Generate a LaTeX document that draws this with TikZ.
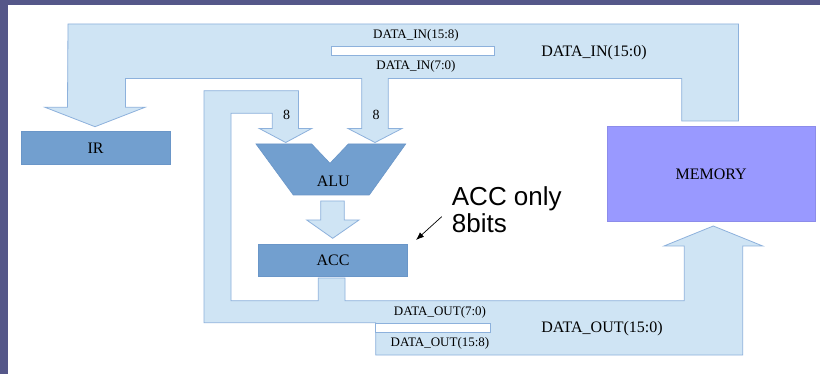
\documentclass[tikz,border=0pt]{standalone}
\usepackage{fontspec}
\setmainfont{Liberation Serif}
\newfontfamily\notefont{Liberation Sans}
\usetikzlibrary{arrows.meta}
\definecolor{slidebg}{HTML}{555789}
\definecolor{busfill}{HTML}{CFE4F4}
\definecolor{busline}{HTML}{8DB1DC}
\definecolor{compfill}{HTML}{729FCF}
\definecolor{compline}{HTML}{6A96C8}
\definecolor{memfill}{HTML}{9999FF}
\definecolor{memline}{HTML}{8C8CEA}
\tikzset{
  bus/.style={fill=busfill, draw=busline, line width=0.8pt, line join=miter},
  sepbox/.style={fill=white, draw=busline, line width=0.8pt},
  comp/.style={fill=compfill, draw=compline, line width=0.6pt, inner sep=0pt},
  membox/.style={fill=memfill, draw=memline, line width=0.6pt, inner sep=0pt},
  lbl/.style={inner sep=0pt, font=\fontsize{13}{15}\selectfont},
  biglbl/.style={inner sep=0pt, font=\fontsize{16}{18}\selectfont},
  complbl/.style={inner sep=0pt, font=\fontsize{16}{18}\selectfont},
  note/.style={inner sep=0pt, font=\notefont\fontsize{26}{28}\selectfont},
}
\begin{document}
\begin{tikzpicture}[x=1pt, y=-1pt]
\useasboundingbox (0,0) rectangle (820,374);
\fill[white] (0,0) rectangle (820,374);
\fill[slidebg] (0,0) rectangle (820,5);
\fill[slidebg] (0,0) rectangle (7.7,374);

% DATA_IN bus
\draw[bus] (68,24) -- (738.5,24) -- (738.5,121) -- (681.7,121) -- (681.7,78.5)
  -- (388.3,78.5) -- (388.3,128.5) -- (402,128.5) -- (375,142.5) -- (348,128.5)
  -- (361.7,128.5) -- (361.7,78.5) -- (125.5,78.5) -- (125.5,107.3) -- (145,107.3)
  -- (95,126.7) -- (45,107.3) -- (67.5,107.3) -- cycle;
\draw[sepbox] (331.7,46.7) rectangle (494,55.7);
\node[lbl] (din158) at (416,35) {DATA\_IN(15:8)};
\node[lbl] (din70) at (416,66.7) {DATA\_IN(7:0)};
\node[biglbl] (din) at (594,53) {DATA\_IN(15:0)};
\node[lbl, font=\fontsize{14}{16}\selectfont] (eightR) at (376,115) {8};

% DATA_OUT bus with feedback loop
\draw[bus] (318.3,278) -- (318.3,300.7) -- (231,300.7) -- (231,113.3) -- (272.3,113.3)
  -- (272.3,128.5) -- (259.3,128.5) -- (285.7,142.5) -- (311.7,128.5) -- (298.5,128.5)
  -- (298.5,90.7) -- (204,90.7) -- (204,322.7) -- (375.7,322.7) -- (375.7,355)
  -- (742.7,355) -- (742.7,246) -- (762.7,246) -- (713.3,226) -- (664,246)
  -- (684.3,246) -- (684.3,300.7) -- (345,300.7) -- (345,278) -- cycle;
\draw[sepbox] (375.7,323) rectangle (490.7,332);
\node[lbl] (dout70) at (440,312.5) {DATA\_OUT(7:0)};
\node[lbl] (dout158) at (440,343) {DATA\_OUT(15:8)};
\node[biglbl] (dout) at (602,328.3) {DATA\_OUT(15:0)};
\node[lbl, font=\fontsize{14}{16}\selectfont] (eightL) at (286.7,115) {8};

% ALU
\draw[comp] (256,144) -- (311.7,144) -- (330,163.3) -- (348.3,144) -- (405.7,144)
  -- (369.3,195) -- (293.3,195) -- cycle;
\node[complbl] (alu) at (333.3,181.7) {ALU};

% ALU -> ACC block arrow
\draw[bus] (320.7,201) -- (344.3,201) -- (344.3,220) -- (359,220) -- (332.7,238.3)
  -- (306.7,220) -- (320.7,220) -- cycle;

% boxes
\node[comp, minimum width=149pt, minimum height=32.3pt, complbl] (ir) at (95.5,147.9) {IR};
\node[comp, minimum width=149.4pt, minimum height=32pt, complbl] (acc) at (333,260) {ACC};
\node[membox, minimum width=207.7pt, minimum height=95.7pt, complbl] (mem) at (711.2,173.9) {MEMORY};

% annotation
\node[note, anchor=base west] (note1) at (451.7,206) {ACC only};
\node[note, anchor=base west] (note2) at (451.7,232.3) {8bits};
\coordinate (nfrom) at (441.7,216.7);
\coordinate (nto) at (416,240);
\draw[line width=0.7pt, -{Latex[length=8pt,width=6pt]}] (nfrom) -- (nto);
\end{tikzpicture}
\end{document}
